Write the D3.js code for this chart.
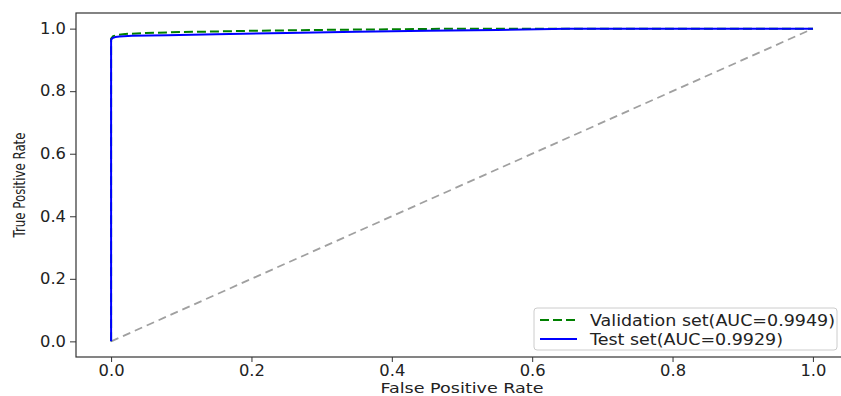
<!DOCTYPE html>
<html>
<head>
<meta charset="utf-8">
<script src="https://cdn.jsdelivr.net/npm/d3@7"></script>
<style>
  body { margin: 0; background: #fff; }
  text { font-family: "DejaVu Sans", sans-serif; fill: #222; }
</style>
</head>
<body>
<div id="chart"></div>
<script>
// ROC curves
const valFpr = [0, 0, 0.003, 0.01, 0.02, 0.05, 0.1, 0.2, 0.3, 0.4, 0.5, 1.0];
const valTpr = [0, 0.968, 0.976, 0.980, 0.983, 0.986, 0.989, 0.993, 0.996, 0.998, 1.0, 1.0];
const testFpr = [0, 0, 0.002, 0.006, 0.012, 0.03, 0.08, 0.15, 0.25, 0.35, 0.45, 0.55, 0.65, 1.0];
const testTpr = [0, 0.964, 0.970, 0.973, 0.975, 0.977, 0.979, 0.982, 0.986, 0.990, 0.993, 0.996, 1.0, 1.0];
const chanceFpr = [0, 1];
const chanceTpr = [0, 1];
const seriesNames = ["Validation set(AUC=0.9949)", "Test set(AUC=0.9929)"];
const tickValues = [0, 0.2, 0.4, 0.6, 0.8, 1.0];

const W = 841, H = 396;
const margin = { top: 13, right: -7, bottom: 39, left: 76 };
const width = W - margin.left - margin.right;
const height = H - margin.top - margin.bottom;

const svg = d3.select("#chart").append("svg")
  .attr("width", W).attr("height", H);

const g = svg.append("g")
  .attr("transform", "translate(" + margin.left + "," + margin.top + ")");

// matplotlib style 5% padding on both axes
const x = d3.scaleLinear().domain([-0.05, 1.05]).range([0, width]);
const y = d3.scaleLinear().domain([-0.05, 1.05]).range([height, 0]);

g.append("clipPath").attr("id", "clip")
  .append("rect").attr("width", width).attr("height", height);

const line = d3.line().x(d => x(d[0])).y(d => y(d[1]));
const zip = (a, b) => a.map((v, i) => [v, b[i]]);

const plot = g.append("g").attr("clip-path", "url(#clip)");

plot.append("path")
  .attr("d", line(zip(chanceFpr, chanceTpr)))
  .attr("fill", "none").attr("stroke", "#a0a0a0")
  .attr("stroke-width", 1.8).attr("stroke-dasharray", "8,5");

plot.append("path")
  .attr("d", line(zip(valFpr, valTpr)))
  .attr("fill", "none").attr("stroke", "#008000")
  .attr("stroke-width", 2).attr("stroke-dasharray", "9,4");

plot.append("path")
  .attr("d", line(zip(testFpr, testTpr)))
  .attr("fill", "none").attr("stroke", "#0000ff")
  .attr("stroke-width", 2).attr("stroke-linejoin", "round");

// axes
const xAxis = g.append("g")
  .attr("transform", "translate(0," + height + ")")
  .call(d3.axisBottom(x).tickValues(tickValues).tickFormat(d3.format(".1f")).tickSize(5).tickPadding(3));
const yAxis = g.append("g")
  .call(d3.axisLeft(y).tickValues(tickValues).tickFormat(d3.format(".1f")).tickSize(6).tickPadding(4));

// the source picture is stretched sideways, so widen the horizontal text a bit
[xAxis, yAxis].forEach(a => {
  a.select(".domain").remove();
  a.selectAll("line").attr("stroke", "#333");
  a.selectAll("text").attr("font-size", 15).attr("fill", "#222")
    .attr("textLength", 26).attr("lengthAdjust", "spacingAndGlyphs")
    .style("font-family", "DejaVu Sans, sans-serif");
});

// frame
g.append("rect").attr("width", width).attr("height", height)
  .attr("fill", "none").attr("stroke", "#333").attr("stroke-width", 1.2);

// axis labels
svg.append("text")
  .attr("x", margin.left + x(0.5)).attr("y", 393)
  .attr("text-anchor", "middle").attr("font-size", 14)
  .attr("textLength", 163).attr("lengthAdjust", "spacingAndGlyphs")
  .text("False Positive Rate");

svg.append("text")
  .attr("transform", "translate(25," + (margin.top + y(0.5)) + ") rotate(-90)")
  .attr("text-anchor", "middle").attr("font-size", 16)
  .attr("textLength", 105).attr("lengthAdjust", "spacingAndGlyphs")
  .text("True Positive Rate");

// legend
const lg = svg.append("g").attr("transform", "translate(534,308)");
lg.append("rect").attr("width", 303).attr("height", 42)
  .attr("rx", 3).attr("fill", "#fff").attr("stroke", "#cccccc");
const legendStyles = [
  { color: "#008000", dash: "9,4", len: 245 },
  { color: "#0000ff", dash: null, len: 193 }
];
seriesNames.forEach((name, i) => {
  const row = lg.append("g").attr("transform", "translate(0," + (12 + i * 19) + ")");
  row.append("line").attr("x1", 6).attr("x2", 43).attr("y1", 0).attr("y2", 0)
    .attr("stroke", legendStyles[i].color).attr("stroke-width", 2)
    .attr("stroke-dasharray", legendStyles[i].dash);
  row.append("text").attr("x", 56).attr("y", 5.5).attr("font-size", 15)
    .attr("textLength", legendStyles[i].len).attr("lengthAdjust", "spacingAndGlyphs")
    .text(name);
});
</script>
</body>
</html>
